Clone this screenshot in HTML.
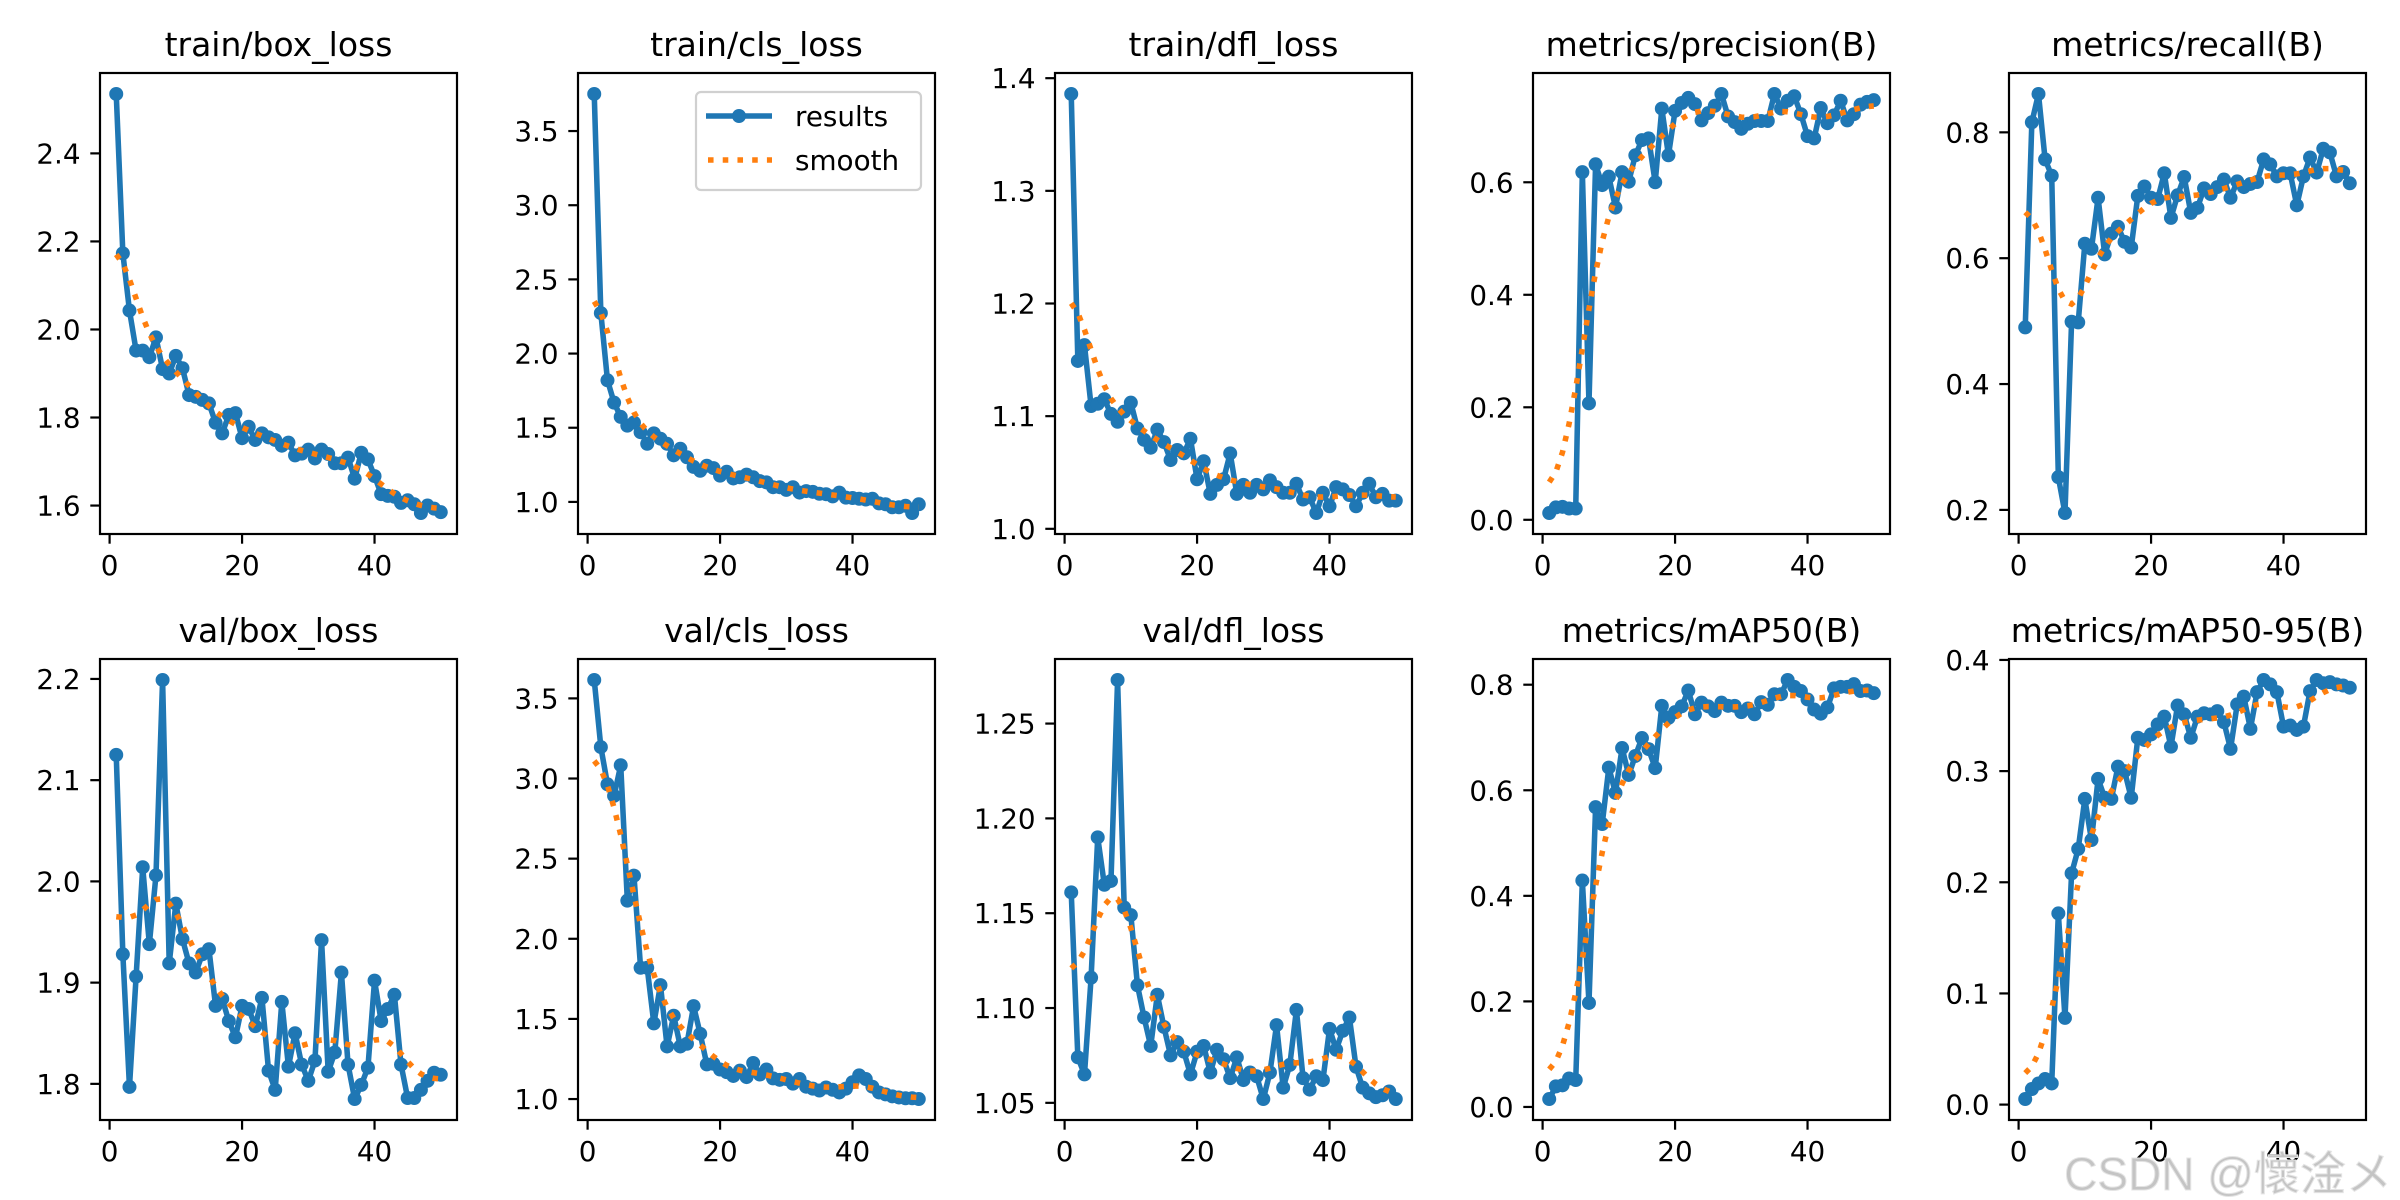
<!DOCTYPE html>
<html><head><meta charset="utf-8"><title>results</title>
<style>
html,body{margin:0;padding:0;background:#fff;}
svg{display:block;font-family:"DejaVu Sans","Liberation Sans",sans-serif;}
</style></head>
<body>
<svg id="fig" width="2400" height="1200" viewBox="0 0 2400 1200" xmlns="http://www.w3.org/2000/svg">
<rect width="2400" height="1200" fill="#fff"/>
</svg>
<script>
const epochs = [];
for (let i = 1; i <= 50; i++) epochs.push(i);

const titles = ["train/box_loss","train/cls_loss","train/dfl_loss","metrics/precision(B)","metrics/recall(B)","val/box_loss","val/cls_loss","val/dfl_loss","metrics/mAP50(B)","metrics/mAP50-95(B)"];

const trainBox = [2.535,2.173,2.043,1.952,1.952,1.937,1.982,1.91,1.90,1.94,1.912,1.851,1.847,1.84,1.832,1.788,1.764,1.806,1.81,1.753,1.779,1.749,1.764,1.755,1.749,1.736,1.743,1.714,1.718,1.727,1.707,1.727,1.717,1.696,1.696,1.709,1.661,1.72,1.705,1.667,1.626,1.622,1.62,1.606,1.612,1.603,1.583,1.6,1.593,1.585];
const trainCls = [3.75,2.273,1.82,1.669,1.573,1.514,1.535,1.47,1.392,1.462,1.426,1.392,1.314,1.358,1.301,1.236,1.21,1.244,1.228,1.177,1.203,1.158,1.166,1.184,1.166,1.14,1.132,1.099,1.099,1.081,1.099,1.063,1.073,1.068,1.055,1.052,1.037,1.063,1.029,1.026,1.021,1.016,1.021,0.99,0.984,0.964,0.964,0.974,0.925,0.984];
const trainDfl = [1.386,1.149,1.163,1.109,1.111,1.115,1.102,1.095,1.104,1.112,1.089,1.079,1.072,1.088,1.077,1.061,1.07,1.067,1.080,1.044,1.06,1.031,1.039,1.044,1.067,1.031,1.039,1.032,1.039,1.035,1.043,1.037,1.032,1.032,1.04,1.026,1.028,1.014,1.032,1.020,1.037,1.035,1.030,1.020,1.032,1.04,1.028,1.031,1.025,1.025];
const precision = [0.012,0.022,0.023,0.02,0.02,0.618,0.207,0.632,0.595,0.61,0.555,0.618,0.601,0.648,0.675,0.678,0.6,0.731,0.648,0.727,0.741,0.75,0.739,0.71,0.723,0.736,0.757,0.717,0.707,0.695,0.704,0.709,0.709,0.709,0.757,0.731,0.745,0.753,0.721,0.682,0.678,0.732,0.705,0.719,0.745,0.71,0.721,0.738,0.743,0.746];
const recall = [0.49,0.816,0.861,0.757,0.731,0.252,0.195,0.499,0.498,0.623,0.615,0.696,0.606,0.639,0.65,0.626,0.617,0.699,0.714,0.696,0.694,0.735,0.664,0.7,0.729,0.672,0.68,0.711,0.702,0.713,0.725,0.696,0.722,0.713,0.718,0.721,0.757,0.749,0.73,0.735,0.735,0.684,0.73,0.76,0.736,0.774,0.768,0.73,0.737,0.719];
const valBox = [2.125,1.928,1.797,1.906,2.014,1.938,2.006,2.199,1.919,1.978,1.943,1.919,1.910,1.928,1.933,1.877,1.884,1.862,1.846,1.877,1.874,1.857,1.885,1.813,1.794,1.881,1.817,1.85,1.819,1.803,1.823,1.942,1.812,1.831,1.910,1.819,1.785,1.799,1.816,1.902,1.862,1.874,1.888,1.819,1.786,1.786,1.794,1.803,1.811,1.809];
const valCls = [3.615,3.196,2.964,2.892,3.083,2.238,2.394,1.819,1.819,1.472,1.711,1.328,1.52,1.328,1.345,1.58,1.407,1.216,1.22,1.184,1.168,1.144,1.177,1.137,1.225,1.153,1.184,1.129,1.12,1.125,1.096,1.125,1.077,1.065,1.053,1.072,1.058,1.041,1.065,1.105,1.148,1.125,1.077,1.041,1.029,1.017,1.01,1.005,1.005,1.0];
const valDfl = [1.161,1.074,1.065,1.116,1.190,1.165,1.167,1.273,1.153,1.149,1.112,1.095,1.080,1.107,1.09,1.075,1.082,1.077,1.065,1.077,1.080,1.066,1.078,1.073,1.063,1.074,1.062,1.066,1.064,1.052,1.066,1.091,1.058,1.07,1.099,1.063,1.057,1.064,1.062,1.089,1.078,1.088,1.095,1.069,1.058,1.055,1.053,1.054,1.056,1.052];
const map50 = [0.015,0.039,0.041,0.054,0.051,0.429,0.197,0.568,0.536,0.643,0.595,0.68,0.629,0.665,0.699,0.678,0.642,0.76,0.737,0.748,0.759,0.789,0.744,0.766,0.759,0.75,0.766,0.76,0.76,0.748,0.755,0.744,0.767,0.762,0.782,0.782,0.809,0.796,0.788,0.772,0.753,0.745,0.757,0.793,0.796,0.796,0.801,0.788,0.789,0.784];
const map5095 = [0.005,0.014,0.019,0.023,0.019,0.172,0.078,0.208,0.23,0.275,0.238,0.293,0.276,0.275,0.304,0.3,0.276,0.33,0.328,0.333,0.342,0.349,0.322,0.359,0.351,0.33,0.349,0.352,0.351,0.354,0.344,0.32,0.36,0.367,0.338,0.371,0.382,0.378,0.371,0.34,0.341,0.337,0.34,0.372,0.382,0.379,0.38,0.378,0.377,0.375];

const yTicks = [
  [1.6,1.8,2.0,2.2,2.4],
  [1.0,1.5,2.0,2.5,3.0,3.5],
  [1.0,1.1,1.2,1.3,1.4],
  [0.0,0.2,0.4,0.6],
  [0.2,0.4,0.6,0.8],
  [1.8,1.9,2.0,2.1,2.2],
  [1.0,1.5,2.0,2.5,3.0,3.5],
  [1.05,1.10,1.15,1.20,1.25],
  [0.0,0.2,0.4,0.6,0.8],
  [0.0,0.1,0.2,0.3,0.4]
];
const yTickDecimals = [1,1,1,1,1,1,1,2,1,1];
const xTicks = [0,20,40];

const series = [trainBox,trainCls,trainDfl,precision,recall,valBox,valCls,valDfl,map50,map5095];
const panelNames = ["train-box-loss","train-cls-loss","train-dfl-loss","precision","recall","val-box-loss","val-cls-loss","val-dfl-loss","map50","map50-95"];

const NS = "http://www.w3.org/2000/svg";
const svg = document.getElementById("fig");
function mk(tag, attrs, parent) {
  const e = document.createElementNS(NS, tag);
  for (const k in attrs) e.setAttribute(k, attrs[k]);
  (parent || svg).appendChild(e);
  return e;
}

// gaussian smoothing (sigma 3, reflect) as in the source plotting routine
function smooth(y) {
  const sigma = 3, r = 12, n = y.length;
  const w = []; let s = 0;
  for (let k = -r; k <= r; k++) { const v = Math.exp(-0.5 * k * k / (sigma * sigma)); w.push(v); s += v; }
  const out = [];
  for (let i = 0; i < n; i++) {
    let acc = 0;
    for (let k = -r; k <= r; k++) {
      let j = i + k;
      while (j < 0 || j >= n) { if (j < 0) j = -j - 1; if (j >= n) j = 2 * n - j - 1; }
      acc += w[k + r] * y[j];
    }
    out.push(acc / s);
  }
  return out;
}

const lefts = [100, 578, 1055, 1533, 2009];
const tops = [73, 659];
const AW = 357, AH = 461;
const MR = 7;

for (let p = 0; p < 10; p++) {
  const L = lefts[p % 5], T = tops[Math.floor(p / 5)];
  const ys = series[p];
  const sm = smooth(ys);
  const g = mk("g", {});
  
  

  const xmin = 1, xmax = 50, xm = (xmax - xmin) * 0.05;
  const x0 = xmin - xm, x1 = xmax + xm;
  let lo = Math.min(...ys, ...sm), hi = Math.max(...ys, ...sm);
  const ym = (hi - lo) * 0.05; const y0 = lo - ym, y1 = hi + ym;
  const X = v => L + (v - x0) / (x1 - x0) * AW;
  const Y = v => T + AH - (v - y0) / (y1 - y0) * AH;

  const t = mk("text", {x: L + AW / 2, y: T - 17, "text-anchor": "middle", "font-size": 33, fill: "#000"}, g);
  t.textContent = titles[p];
  
  

  xTicks.forEach(v => {
    const x = X(v);
    const tk = mk("line", {x1: x, x2: x, y1: T + AH, y2: T + AH + 9.7, stroke: "#000", "stroke-width": 2.2}, g);
    
    
    const tl = mk("text", {x: x, y: T + AH + 41, "text-anchor": "middle", "font-size": 27.8, fill: "#000"}, g);
    tl.textContent = String(v);
    
    
  });
  yTicks[p].forEach(v => {
    const y = Y(v);
    const tk = mk("line", {x1: L - 9.7, x2: L, y1: y, y2: y, stroke: "#000", "stroke-width": 2.2}, g);
    
    
    const tl = mk("text", {x: L - 19.4, y: y + 10, "text-anchor": "end", "font-size": 27.8, fill: "#000"}, g);
    tl.textContent = v.toFixed(yTickDecimals[p]);
    
    
  });

  const cp = mk("clipPath", {id: "cp" + p}, g);
  mk("rect", {x: L, y: T, width: AW, height: AH}, cp);

  const pts = ys.map((v, i) => X(epochs[i]).toFixed(2) + "," + Y(v).toFixed(2)).join(" ");
  const rl = mk("polyline", {points: pts, fill: "none", stroke: "#1f77b4", "stroke-width": 5.56, "stroke-linejoin": "round", "clip-path": "url(#cp" + p + ")"}, g);
  
  
  ys.forEach((v, i) => {
    const c = mk("circle", {cx: X(epochs[i]), cy: Y(v), r: MR, fill: "#1f77b4"}, g);
    
    
  });
  const spts = sm.map((v, i) => X(epochs[i]).toFixed(2) + "," + Y(v).toFixed(2)).join(" ");
  const sl = mk("polyline", {points: spts, fill: "none", stroke: "#ff7f0e", "stroke-width": 5.56, "stroke-dasharray": "5.56 9.17", "clip-path": "url(#cp" + p + ")"}, g);
  
  

  const fr = mk("rect", {x: L, y: T, width: AW, height: AH, fill: "none", stroke: "#000", "stroke-width": 2.2}, g);
  
  
}

const lg = mk("g", {});


mk("rect", {x: 696, y: 92, width: 225, height: 98, rx: 5, fill: "#fff", "fill-opacity": 0.8, stroke: "#d0d0d0", "stroke-width": 2.2}, lg);
const le1 = mk("g", {}, lg);


mk("line", {x1: 706, x2: 772, y1: 116, y2: 116, stroke: "#1f77b4", "stroke-width": 5.56}, le1);
mk("circle", {cx: 739, cy: 116, r: MR, fill: "#1f77b4"}, le1);
const lt1 = mk("text", {x: 795, y: 126, "font-size": 27.8, fill: "#000"}, le1);
lt1.textContent = "results";
const le2 = mk("g", {}, lg);


mk("line", {x1: 708, x2: 772, y1: 160, y2: 160, stroke: "#ff7f0e", "stroke-width": 5.56, "stroke-dasharray": "5.56 9.17"}, le2);
const lt2 = mk("text", {x: 795, y: 170, "font-size": 27.8, fill: "#000"}, le2);
lt2.textContent = "smooth";

const wm = mk("text", {x: 2392, y: 1190, "text-anchor": "end", "font-size": 46, fill: "#c4c4c4", stroke: "#e4e4e4", "stroke-width": 1, "font-family": "\"Liberation Sans\", \"Noto Sans CJK SC\", sans-serif"});
wm.textContent = "CSDN @懷淦メ";


</script>
</body></html>
